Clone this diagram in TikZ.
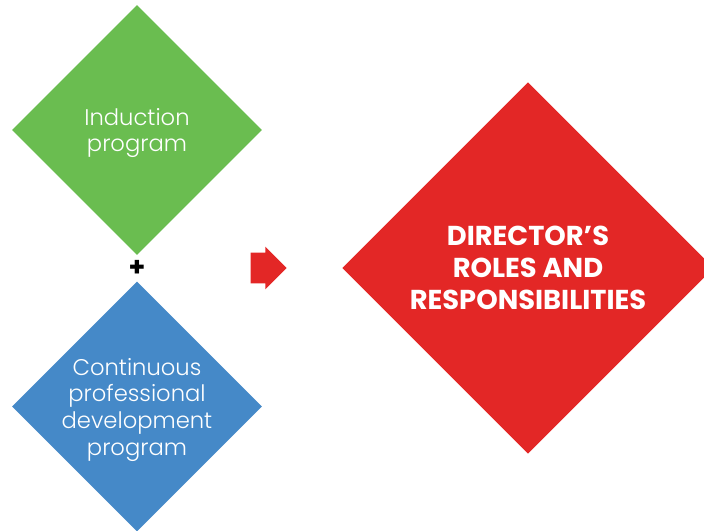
\documentclass[tikz,border=0pt]{standalone}
\usepackage{fontspec}
\setmainfont{Poppins}
\newfontfamily\lightfont{Poppins Light}
\usetikzlibrary{shapes.geometric,shapes.arrows}
\definecolor{ingreen}{RGB}{106,189,80}
\definecolor{cpdblue}{RGB}{69,137,200}
\definecolor{dirred}{RGB}{227,39,38}
\begin{document}
\begin{tikzpicture}[x=0.75pt, y=-0.75pt,
    box/.style={diamond, shape aspect=1, inner sep=-12pt, align=center, text=white, text depth=-4pt},
    smalltext/.style={font=\lightfont\fontsize{17}{20}\selectfont},
    bigtext/.style={font=\bfseries\fontsize{20.5}{24}\selectfont}]
  \useasboundingbox (0,0) rectangle (704,531);
  % Nodes
  \node[box, smalltext, fill=ingreen, minimum size=187.5pt] at (137,130) (induction) {Induction\\program};
  \node[box, smalltext, fill=cpdblue, minimum size=187.5pt] at (137,406.5) (cpd) {Continuous\\professional\\development\\program};
  \node[box, bigtext, fill=dirred, minimum size=278.5pt] at (528,268) (roles) {DIRECTOR’S\\ROLES AND\\RESPONSIBILITIES};

  \node[font=\bfseries\fontsize{20}{20}\selectfont, inner sep=0pt] at (137,268) (plus) {+};
  \node[single arrow, fill=dirred, inner sep=0pt, text height=22.5pt, text depth=0pt,
        minimum height=27pt, single arrow head extend=4.5pt] at (261,268) (arrow) {};
\end{tikzpicture}
\end{document}
